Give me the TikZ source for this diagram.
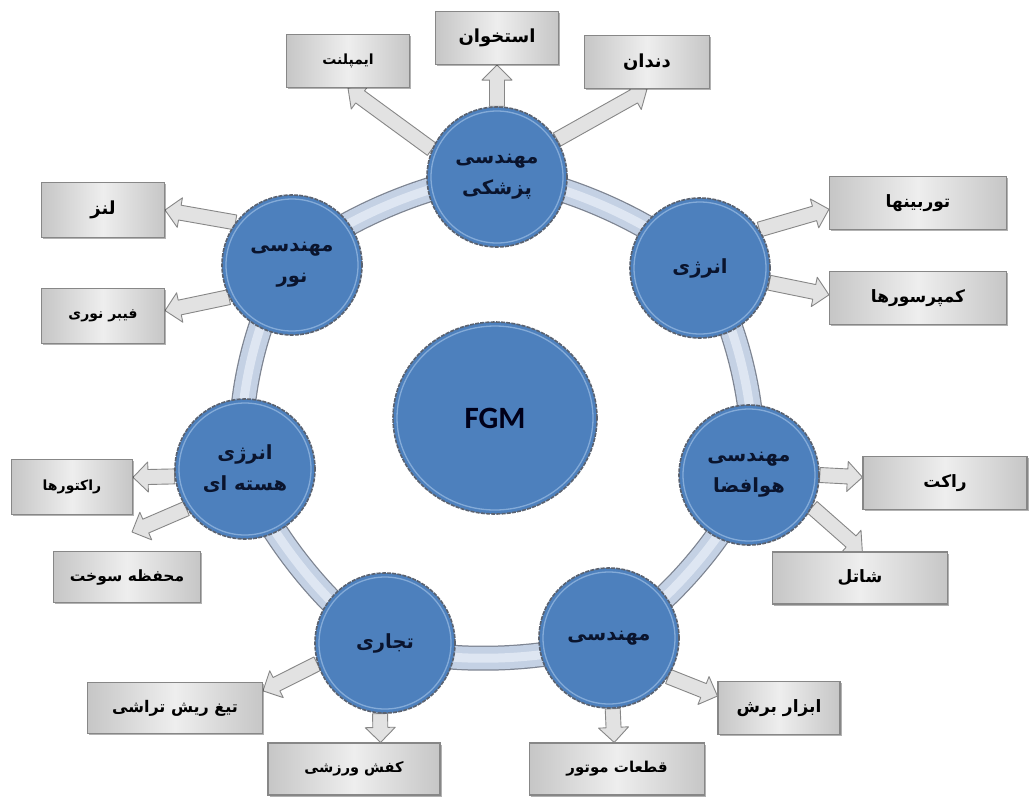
\documentclass[tikz,border=0pt]{standalone}
\usepackage{fontspec}
\usetikzlibrary{calc,shadows,shapes.geometric}
\TeXXeTstate=1
\newfontfamily\fa[Script=Arabic]{DejaVu Sans}
\newfontfamily\fgmfont{Carlito}
\definecolor{circblue}{RGB}{77,128,189}
\definecolor{circline}{RGB}{90,98,112}
\definecolor{circhi}{RGB}{170,200,235}
\definecolor{bandcol}{RGB}{196,209,228}
\definecolor{bandlight}{RGB}{222,230,242}
\definecolor{bandline}{RGB}{125,132,145}
\definecolor{boxdark}{RGB}{198,198,198}
\definecolor{boxlight}{RGB}{238,238,238}
\definecolor{boxline}{RGB}{135,135,135}
\definecolor{arrfill}{RGB}{226,226,226}
\definecolor{arrline}{RGB}{135,135,135}
\definecolor{txtnavy}{RGB}{10,20,45}
\pgfdeclarelayer{back}
\pgfdeclarelayer{bg}
\pgfsetlayers{back,bg,main}
\newcommand\fgmarrow[2]{%
  \path ($(#2)!15pt!(#1)$) coordinate (ah);
  \filldraw[arrowst] ($(#1)!7.5pt!90:(#2)$) -- ($(ah)!7.5pt!90:(#2)$) -- ($(ah)!15pt!90:(#2)$) -- (#2)
    -- ($(ah)!15pt!-90:(#2)$) -- ($(ah)!7.5pt!-90:(#2)$) -- ($(#1)!7.5pt!-90:(#2)$) -- cycle;}
\tikzset{
  arrowst/.style={fill=arrfill, draw=arrline, line width=0.9pt, line join=round},
  sat/.style={circle, minimum size=140pt, inner sep=0pt, fill=circblue, draw=circline,
    line width=1.6pt, dash pattern=on 4pt off 1.2pt, text=txtnavy, align=center,
    font=\fa\bfseries\fontsize{19.5}{31}\selectfont},
  bx/.style={rectangle, inner sep=0pt, draw=boxline, line width=1.1pt,
    left color=boxdark, right color=boxdark, middle color=boxlight,
    drop shadow={shadow xshift=1.5pt, shadow yshift=-1.5pt, opacity=0.3, fill=black},
    text=black, font=\fa\bfseries\fontsize{17}{20}\selectfont},
  hiring/.style={draw=circhi, line width=1.3pt, opacity=0.6},
}
\begin{document}
\begin{tikzpicture}[x=1pt,y=-1pt]
\begin{pgfonlayer}{back}
\fill[white] (0,0) rectangle (1031,796);
\end{pgfonlayer}
\useasboundingbox (0,0) rectangle (1031,796);
% centres
\coordinate (cM) at (497,177);
\coordinate (cE) at (700,268);
\coordinate (cA) at (749,475);
\coordinate (cG) at (609,638);
\coordinate (cC) at (385,643);
\coordinate (cN) at (245,469);
\coordinate (cL) at (292,265);
% satellites
\node[sat] (med) at (cM) {\beginR مهندسی\endR\\\beginR پزشکی\endR};
\node[sat] (en) at (cE) {\beginR انرژی\endR};
\node[sat] (aero) at (cA) {\beginR مهندسی\endR\\\beginR هوافضا\endR};
\node[sat] (eng) at (cG) {\beginR مهندسی\endR};
\node[sat] (comm) at (cC) {\beginR تجاری\endR};
\node[sat] (nuc) at (cN) {\beginR انرژی\endR\\\beginR هسته ای\endR};
\node[sat] (lig) at (cL) {\beginR مهندسی\endR\\\beginR نور\endR};
\node[sat, ellipse, minimum width=204pt, minimum height=192pt, text=black!90!blue, font=\fgmfont\bfseries\fontsize{31}{34}\selectfont] (fgm) at (495,418) {FGM};
\foreach \n/\r in {med/66,en/66,aero/66,eng/66,comm/66,nuc/66,lig/66}{\draw[hiring] (\n) circle (\r pt);}
\draw[hiring] (fgm) ellipse (98pt and 92pt);
% boxes
\node[bx, minimum width=123pt, minimum height=53pt, font=\fa\bfseries\fontsize{14}{16}\selectfont] (imp) at (348,61) {\beginR ایمپلنت\endR};
\node[bx, minimum width=123pt, minimum height=53pt, font=\fa\bfseries\fontsize{18}{20}\selectfont] (bone) at (497,38) {\beginR استخوان\endR};
\node[bx, minimum width=125pt, minimum height=53pt, font=\fa\bfseries\fontsize{18}{20}\selectfont] (tooth) at (647,62) {\beginR دندان\endR};
\node[bx, minimum width=177pt, minimum height=53pt] (turb) at (918,203) {\beginR توربینها\endR};
\node[bx, minimum width=177pt, minimum height=53pt] (comp) at (918,298) {\beginR کمپرسورها\endR};
\node[bx, minimum width=123pt, minimum height=55pt, font=\fa\bfseries\fontsize{18}{20}\selectfont] (lens) at (103,210) {\beginR لنز\endR};
\node[bx, minimum width=123pt, minimum height=55pt, font=\fa\bfseries\fontsize{14}{16}\selectfont] (fiber) at (103,316) {\beginR فیبر نوری\endR};
\node[bx, minimum width=121pt, minimum height=55pt, font=\fa\bfseries\fontsize{14}{16}\selectfont] (react) at (72,487) {\beginR راکتورها\endR};
\node[bx, minimum width=147pt, minimum height=51pt, font=\fa\bfseries\fontsize{15.5}{18}\selectfont] (fuel) at (127,577) {\beginR محفظه سوخت\endR};
\node[bx, minimum width=164pt, minimum height=53pt] (rak) at (945,483) {\beginR راکت\endR};
\node[bx, minimum width=175pt, minimum height=52pt] (shut) at (860,578) {\beginR شاتل\endR};
\node[bx, minimum width=175pt, minimum height=51pt, font=\fa\bfseries\fontsize{16}{18}\selectfont] (razor) at (175,708) {\beginR تیغ ریش تراشی\endR};
\node[bx, minimum width=172pt, minimum height=52pt, font=\fa\bfseries\fontsize{14.5}{16}\selectfont] (shoe) at (354,769) {\beginR کفش ورزشی\endR};
\node[bx, minimum width=175pt, minimum height=52pt, font=\fa\bfseries\fontsize{15}{16}\selectfont] (parts) at (617,769) {\beginR قطعات موتور\endR};
\node[bx, minimum width=122pt, minimum height=53pt] (tool) at (779,708) {\beginR ابزار برش\endR};
\coordinate (fueltip) at (132,532);
% ring and arrows below
\begin{pgfonlayer}{bg}
\draw[bandline, line width=25pt] plot[smooth cycle] coordinates {(cM) (cE) (cA) (cG) (cC) (cN) (cL)};
\draw[bandcol, line width=22.5pt] plot[smooth cycle] coordinates {(cM) (cE) (cA) (cG) (cC) (cN) (cL)};
\draw[bandlight, line width=9pt] plot[smooth cycle] coordinates {(cM) (cE) (cA) (cG) (cC) (cN) (cL)};
\fgmarrow{med.157}{imp.south}
\fgmarrow{med.90}{bone.south}
\fgmarrow{med.32}{tooth.south}
\fgmarrow{en.33}{turb.184}
\fgmarrow{en.-12}{comp.178}
\fgmarrow{aero.0}{rak.176}
\fgmarrow{aero.-27}{shut.85}
\fgmarrow{eng.-87}{parts.96}
\fgmarrow{eng.-33}{tool.169}
\fgmarrow{comm.-94}{shoe.45}
\fgmarrow{comm.197}{razor.11}
\fgmarrow{nuc.186}{react.9}
\fgmarrow{nuc.214}{fueltip}
\fgmarrow{lig.143}{lens.east}
\fgmarrow{lig.207}{fiber.5}
\end{pgfonlayer}
\end{tikzpicture}
\end{document}
